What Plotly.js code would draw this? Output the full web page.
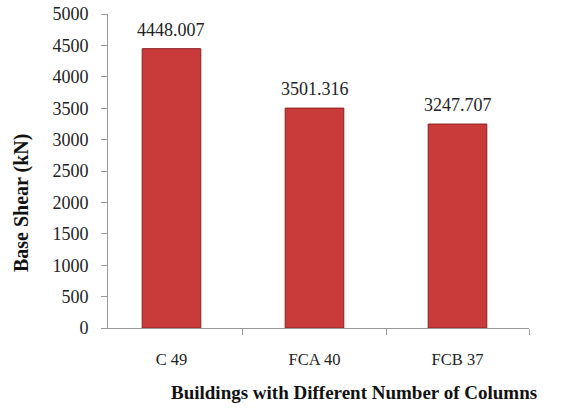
<!DOCTYPE html>
<html>
<head>
<meta charset="utf-8">
<script src="https://cdn.plot.ly/plotly-3.0.1.min.js"></script>
<style>
  html, body { margin: 0; padding: 0; background: #fff; }
  #chart { width: 568px; height: 412px; }
</style>
</head>
<body>
<div id="chart"></div>
<script>
// Base shear for each building layout
const buildings = ['C 49', 'FCA 40', 'FCB 37'];
const baseShear = [4448.007, 3501.316, 3247.707];
const yTicks = [0, 500, 1000, 1500, 2000, 2500, 3000, 3500, 4000, 4500, 5000];

const serif = '"Liberation Serif", "Times New Roman", serif';

// value labels sit above each bar
const valueLabels = buildings.map((b, i) => ({
    x: b,
    y: baseShear[i],
    text: baseShear[i].toFixed(3),
    xref: 'x', yref: 'y',
    yanchor: 'bottom',
    yshift: 7,
    showarrow: false,
    font: { family: serif, size: 18, color: '#222' }
}));

Plotly.newPlot('chart', [{
    x: buildings,
    y: baseShear,
    type: 'bar',
    width: 0.41,
    marker: {
        color: '#c93a3a',
        line: { color: '#8e2222', width: 1 }
    },
    hoverinfo: 'none'
}], {
    width: 568,
    height: 412,
    margin: { l: 108, r: 39, t: 14, b: 84 },
    paper_bgcolor: '#fff',
    plot_bgcolor: '#fff',
    showlegend: false,
    font: { family: serif, size: 16, color: '#222' },
    xaxis: {
        type: 'category',
        range: [-0.444, 2.5],
        showgrid: false,
        showline: true,
        linecolor: '#999',
        linewidth: 1,
        ticks: 'outside',
        tickson: 'boundaries',
        ticklen: 6,
        tickcolor: '#999',
        ticklabelstandoff: 16,
        tickfont: { family: serif, size: 16.5, color: '#222' }
    },
    yaxis: {
        range: [0, 5000],
        tickvals: yTicks,
        ticktext: yTicks.map(String),
        showgrid: false,
        zeroline: false,
        showline: true,
        linecolor: '#999',
        linewidth: 1,
        ticks: 'outside',
        ticklen: 6,
        tickcolor: '#999',
        ticklabelstandoff: 9,
        tickfont: { family: serif, size: 18, color: '#222' }
    },
    annotations: valueLabels.concat([{
        text: '<b>Base Shear (kN)</b>',
        xref: 'paper', yref: 'paper',
        x: -0.205, y: 0.40,
        xanchor: 'center', yanchor: 'middle',
        textangle: -90,
        showarrow: false,
        font: { family: serif, size: 20, color: '#111' }
    }, {
        text: '<b>Buildings with Different Number of Columns</b>',
        xref: 'paper', yref: 'paper',
        x: 0.585, y: -0.206,
        xanchor: 'center', yanchor: 'middle',
        showarrow: false,
        font: { family: serif, size: 19, color: '#111' }
    }])
}, { staticPlot: true });
</script>
</body>
</html>
